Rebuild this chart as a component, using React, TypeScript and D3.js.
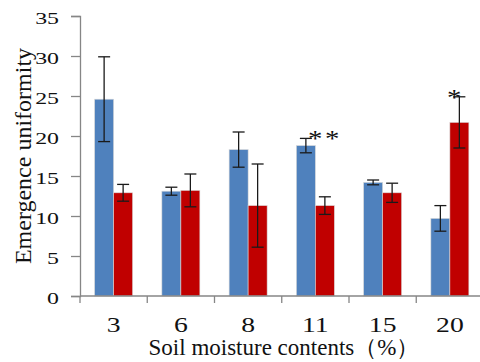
import React, { useEffect, useRef } from 'react';
import * as d3 from 'd3';

const categories = ['3', '6', '8', '11', '15', '20'];
const blueValues = [24.6, 13.1, 18.3, 18.8, 14.2, 9.7];
const blueErrors = [5.3, 0.5, 2.2, 0.9, 0.3, 1.6];
const redValues = [12.9, 13.2, 11.3, 11.3, 12.9, 21.7];
const redErrors = [1.05, 2.05, 5.2, 1.1, 1.2, 3.2];
const marks = ['', '', '', '**', '', '*'];
const yTicks = [0, 5, 10, 15, 20, 25, 30, 35];

const W = 480;
const H = 362;

const App = () => {
  const svgRef = useRef<SVGSVGElement>(null);

  useEffect(() => {
    const svg = d3.select(svgRef.current);
    svg.selectAll('*').remove();

    const margin = { left: 80, right: -3.5, top: 16, bottom: 66 };
    const chartWidth = W - margin.left - margin.right;
    const chartHeight = H - margin.top - margin.bottom;
    const font = 'Liberation Serif, Times New Roman, DejaVu Serif, serif';

    const x = d3.scaleBand().domain(categories).range([0, chartWidth]).paddingInner(0.435).paddingOuter(0.2175);
    const y = d3.scaleLinear().domain([0, 35]).range([chartHeight, 0]);
    const bw = x.bandwidth() / 2;

    const g = svg.append('g').attr('transform', `translate(${margin.left},${margin.top})`);

    const series = [
      { values: blueValues, errors: blueErrors, color: '#4F81BD', off: 0 },
      { values: redValues, errors: redErrors, color: '#C00000', off: bw },
    ];

    series.forEach(s => {
      g.selectAll(null)
        .data(categories)
        .enter()
        .append('rect')
        .attr('x', d => x(d)! + s.off)
        .attr('y', (d, i) => y(s.values[i]))
        .attr('width', bw)
        .attr('height', (d, i) => chartHeight - y(s.values[i]))
        .attr('fill', s.color)
        .attr('stroke', '#d9d9d9')
        .attr('stroke-width', 0.6);
    });

    series.forEach(s => {
      const eg = g.selectAll(null).data(categories).enter().append('g')
        .attr('stroke', '#1a1a1a').attr('stroke-width', 1.3);
      const cx = (d: string) => x(d)! + s.off + bw / 2;
      eg.append('line')
        .attr('x1', cx).attr('x2', cx)
        .attr('y1', (d, i) => y(s.values[i] + s.errors[i]))
        .attr('y2', (d, i) => y(s.values[i] - s.errors[i]));
      eg.append('line')
        .attr('x1', d => cx(d) - 6).attr('x2', d => cx(d) + 6)
        .attr('y1', (d, i) => y(s.values[i] + s.errors[i]))
        .attr('y2', (d, i) => y(s.values[i] + s.errors[i]));
      eg.append('line')
        .attr('x1', d => cx(d) - 6).attr('x2', d => cx(d) + 6)
        .attr('y1', (d, i) => y(s.values[i] - s.errors[i]))
        .attr('y2', (d, i) => y(s.values[i] - s.errors[i]));
    });

    // significance marks, centred over the red bar just above the highest whisker
    g.selectAll(null)
      .data(categories)
      .enter()
      .append('text')
      .text((d, i) => marks[i])
      .attr('transform', (d, i) => {
        const top = Math.max(blueValues[i] + blueErrors[i], redValues[i] + redErrors[i]);
        const cx = x(d)! + bw * 1.5 + (marks[i] === '*' ? -4 : 0);
        return `translate(${cx},${y(top) + 8}) scale(1.2,1)`;
      })
      .attr('text-anchor', 'middle')
      .attr('letter-spacing', 2)
      .style('font-family', font)
      .attr('font-size', 24)
      .attr('fill', '#111');

    // y axis
    const yAxis = g.append('g')
      .call(d3.axisLeft(y).tickValues(yTicks).tickSize(9));
    yAxis.select('.domain').attr('stroke', '#868686').attr('stroke-width', 1.3);
    yAxis.selectAll('.tick line').attr('stroke', '#868686').attr('stroke-width', 1.3);
    yAxis.selectAll('.tick text')
      .attr('x', 0).attr('dy', null).attr('y', 0)
      .attr('transform', 'translate(-21,7.6) scale(1.38,1)')
      .attr('text-anchor', 'end')
      .style('font-family', font).attr('font-size', 17.3).attr('fill', '#111');

    // x axis
    const xAxis = g.append('g').attr('transform', `translate(0,${chartHeight})`);
    xAxis.append('line')
      .attr('x1', 0).attr('x2', chartWidth)
      .attr('stroke', '#868686').attr('stroke-width', 1.3);
    xAxis.selectAll(null)
      .data(d3.range(categories.length + 1))
      .enter()
      .append('line')
      .attr('x1', i => x.step() * i).attr('x2', i => x.step() * i)
      .attr('y1', 0).attr('y2', 7)
      .attr('stroke', '#868686').attr('stroke-width', 1.3);
    xAxis.selectAll(null)
      .data(categories)
      .enter()
      .append('text')
      .text(d => d)
      .attr('transform', d => `translate(${x(d)! + x.bandwidth() / 2},36) scale(1.35,1)`)
      .attr('text-anchor', 'middle')
      .style('font-family', font).attr('font-size', 20.5).attr('fill', '#111');

    svg.append('text')
      .text('Soil moisture contents（%）')
      .attr('x', 284)
      .attr('y', 355)
      .attr('text-anchor', 'middle')
      .style('font-family', font).attr('font-size', 23).attr('fill', '#111');

    svg.append('text')
      .text('Emergence uniformity')
      .attr('transform', 'translate(31,156) rotate(-90)')
      .attr('text-anchor', 'middle')
      .style('font-family', font).attr('font-size', 24).attr('fill', '#111');
  }, []);

  return (
    <svg
      ref={svgRef}
      width={W}
      height={H}
      style={{ position: 'absolute', left: 0, top: 0, background: '#fff' }}
    />
  );
};

export default App;
